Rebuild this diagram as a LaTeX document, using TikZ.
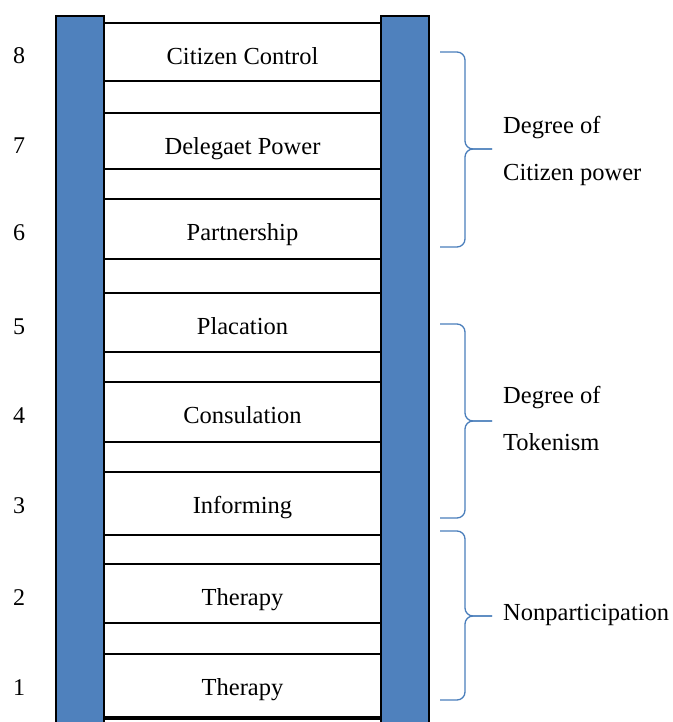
\documentclass[tikz,border=0pt]{standalone}
\usepackage{fontspec}
\setmainfont{Liberation Serif}
\usepackage{xcolor}
\definecolor{railblue}{HTML}{4F81BD}
\definecolor{braceblue}{HTML}{4A7EBB}

\begin{document}
\begin{tikzpicture}[
    x=1pt, y=-1pt,        % pixel-like coordinates, y downwards
    rail/.style = {
        rectangle, draw, fill = railblue, line width = 1.6pt,
        minimum width = 48pt, minimum height = 760pt,
        anchor = north, inner sep = 0pt
    },
    rung/.style = {
        rectangle, draw, fill = white, line width = 1.6pt,
        minimum width = 277pt, inner sep = 0pt,
        text height = 42pt, text depth = 18pt, anchor = north,
        font = \fontsize{24.5}{28}\selectfont
    },
    num/.style = {anchor = base, inner sep = 0pt,
        font = \fontsize{24}{28}\selectfont},
    group/.style = {anchor = base west, inner sep = 0pt, align = left,
        font = \fontsize{24.5}{47}\selectfont},
    bracket/.style = {draw = braceblue, line width = 1.3pt, rounded corners = 8pt}
]
\useasboundingbox (0,0) rectangle (672,722);

% --- Rails ---
\node[rail] (lrail) at ( 80, 15) {};
\node[rail] (rrail) at (405, 15) {};

% --- Rungs ---
\node[rung, text depth = 16pt] (r8) at (242.5,  22) {Citizen Control};
\node[rung, text depth = 14pt] (r7) at (242.5, 112) {Delegaet Power};
\node[rung]                    (r6) at (242.5, 198) {Partnership};
\node[rung, text depth = 17pt] (r5) at (242.5, 292) {Placation};
\node[rung]                    (r4) at (242.5, 381) {Consulation};
\node[rung, text depth = 21pt] (r3) at (242.5, 471) {Informing};
\node[rung, text depth = 17pt] (r2) at (242.5, 563) {Therapy};
\node[rung, text depth = 21pt] (r1) at (242.5, 653) {Therapy};
\node[rung]                    (r0) at (242.5, 718) {};

% --- Step numbers ---
\node[num] (n8) at (19,  64) {8};
\node[num] (n7) at (19, 154) {7};
\node[num] (n6) at (19, 240) {6};
\node[num] (n5) at (19, 334) {5};
\node[num] (n4) at (19, 423) {4};
\node[num] (n3) at (19, 513) {3};
\node[num] (n2) at (19, 605) {2};
\node[num] (n1) at (19, 695) {1};

% --- Braces and group labels ---
\draw[bracket] (440, 52) -- (465, 52) -- (465,149) -- (492,149);
\draw[bracket] (440,247) -- (465,247) -- (465,149) -- (492,149);
\node[group] (power) at (503,180) {Degree of\\Citizen power};

\draw[bracket] (440,324) -- (465,324) -- (465,421) -- (492,421);
\draw[bracket] (440,518) -- (465,518) -- (465,421) -- (492,421);
\node[group] (token) at (503,450) {Degree of\\Tokenism};

\draw[bracket] (440,531) -- (465,531) -- (465,616) -- (492,616);
\draw[bracket] (440,700) -- (465,700) -- (465,616) -- (492,616);
\node[group] (nonpart) at (503,620) {Nonparticipation};

\end{tikzpicture}
\end{document}
